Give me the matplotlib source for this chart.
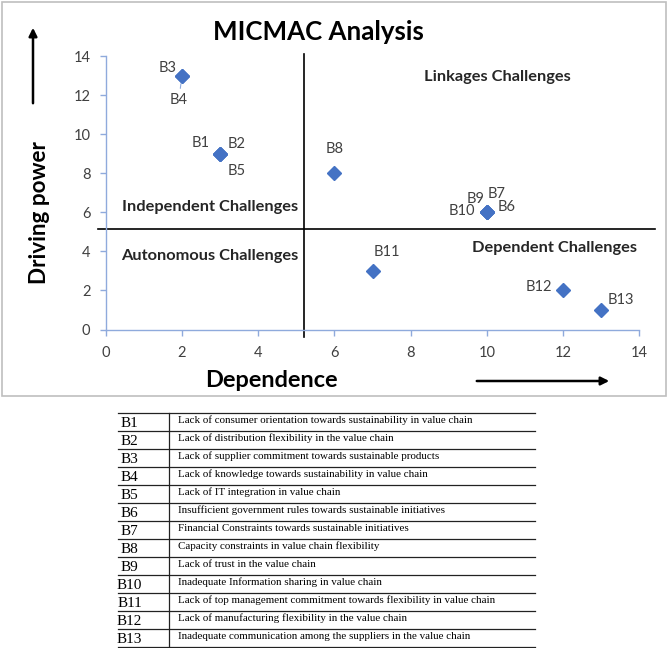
import matplotlib
matplotlib.use("Agg")
import matplotlib.pyplot as plt
from matplotlib.lines import Line2D
from matplotlib.patches import Rectangle, FancyArrowPatch

# ---------------- data ----------------
codes = ["B1", "B2", "B3", "B4", "B5", "B6", "B7", "B8", "B9", "B10", "B11", "B12", "B13"]
dependence = [3, 3, 2, 2, 3, 10, 10, 6, 10, 10, 7, 12, 13]
driving_power = [9, 9, 13, 13, 9, 6, 6, 8, 6, 6, 3, 2, 1]
descriptions = [
    "Lack of consumer orientation towards sustainability in value chain",
    "Lack of distribution flexibility in the value chain",
    "Lack of supplier commitment towards sustainable products",
    "Lack of knowledge towards sustainability in value chain",
    "Lack of IT integration in value chain",
    "Insufficient government rules towards sustainable initiatives",
    "Financial Constraints towards sustainable initiatives",
    "Capacity constraints in value chain flexibility",
    "Lack of trust in the value chain",
    "Inadequate Information sharing in value chain",
    "Lack of top management commitment towards flexibility in value chain",
    "Lack of manufacturing flexibility in the value chain",
    "Inadequate communication among the suppliers in the value chain",
]
x_ticks = [0, 2, 4, 6, 8, 10, 12, 14]
y_ticks = [0, 2, 4, 6, 8, 10, 12, 14]
threshold_dep = 5.2
threshold_drv = 5.15
quadrant_names = ["Independent Challenges", "Linkages Challenges",
                  "Autonomous Challenges", "Dependent Challenges"]

# ---------------- layout (pixels) ----------------
W, H = 668, 648
label_offsets = {  # pixel offsets of point labels from their marker
    "B1": (-19, 11), "B2": (17, 10), "B3": (-14, 8), "B4": (-3, -24),
    "B5": (17, -17), "B6": (20, 5), "B7": (10, 18), "B8": (0, 24),
    "B9": (-11, 13), "B10": (-25, 1), "B11": (14, 19), "B12": (-24, 3),
    "B13": (20, 10),
}
quad_pos = {  # (x center, baseline y from top)
    "Independent Challenges": (210, 211),
    "Linkages Challenges": (497, 81),
    "Autonomous Challenges": (210, 259.5),
    "Dependent Challenges": (554, 252),
}

CHART_FONT = "Lato"
TICK_COLOR = "#404040"
AXIS_COLOR = "#8FAADC"
MARKER_COLOR = "#4472C4"

fig = plt.figure(figsize=(W / 100, H / 100), dpi=100)
fig.patch.set_facecolor("white")


def fx(x):
    return x / W


def fy(y):
    return 1 - y / H


# chart border
fig.add_artist(Rectangle((fx(2), fy(396)), fx(664), (394) / H, transform=fig.transFigure,
                         fill=False, edgecolor="#BFBFBF", lw=1.2))

ax_l, ax_r, ax_t, ax_b = 105.7, 639.3, 56.0, 329.5
ax = fig.add_axes([fx(ax_l), fy(ax_b), (ax_r - ax_l) / W, (ax_b - ax_t) / H])
ax.set_xlim(0, 14)
ax.set_ylim(0, 14)
ax.set_facecolor("none")
for s in ["top", "right"]:
    ax.spines[s].set_visible(False)
for s in ["left", "bottom"]:
    ax.spines[s].set_color(AXIS_COLOR)
    ax.spines[s].set_linewidth(1.0)
ax.set_xticks(x_ticks)
ax.set_yticks(y_ticks)
ax.tick_params(axis="both", color=AXIS_COLOR, length=4, width=1.0,
               labelcolor=TICK_COLOR, labelsize=10.5, direction="out")
ax.tick_params(axis="x", pad=8)
ax.tick_params(axis="y", pad=7)
for lab in ax.get_xticklabels() + ax.get_yticklabels():
    lab.set_family(CHART_FONT)

# threshold lines
ax.plot([threshold_dep, threshold_dep], [-0.38, 14.1], color="black", lw=1.2, clip_on=False, zorder=2)
ax.plot([-0.2, 14.4], [threshold_drv, threshold_drv], color="black", lw=1.2, clip_on=False, zorder=2)

# points
ax.plot(dependence, driving_power, linestyle="none", marker="D", markersize=7.5,
        color=MARKER_COLOR, zorder=4, clip_on=False)

for c, xv, yv in zip(codes, dependence, driving_power):
    dx, dy = label_offsets[c]
    kw = {}
    if c == "B4":
        kw["arrowprops"] = dict(arrowstyle="-", color=AXIS_COLOR, lw=0.8, shrinkA=1, shrinkB=6)
    ax.annotate(c, (xv, yv), xytext=(dx, dy), textcoords="offset pixels",
                ha="center", va="center", fontsize=10.5, color=TICK_COLOR,
                family=CHART_FONT, zorder=5, **kw)

for name in quadrant_names:
    px, py = quad_pos[name]
    fig.text(fx(px), fy(py), name, ha="center", va="baseline", fontsize=11.8,
             fontweight="bold", family=CHART_FONT, color="#262626")

# title & axis labels
fig.text(fx(318), fy(40), "MICMAC Analysis", ha="center", va="baseline",
         fontsize=18.6, fontweight="bold", family=CHART_FONT, color="black")
fig.text(fx(40), fy(213), "Driving power", ha="center", va="center", rotation=90,
         fontsize=16.2, fontweight="bold", family=CHART_FONT, color="black")
fig.text(fx(271), fy(386.7), "Dependence", ha="center", va="baseline",
         fontsize=16.9, fontweight="bold", family=CHART_FONT, color="black")

# arrows
fig.add_artist(FancyArrowPatch(
    (fx(33), fy(106)), (fx(33), fy(25)), transform=fig.transFigure,
    arrowstyle="-|>", mutation_scale=12, color="black", lw=1.8))
fig.add_artist(FancyArrowPatch(
    (fx(474), fy(381)), (fx(612), fy(381)), transform=fig.transFigure,
    arrowstyle="-|>", mutation_scale=12, color="black", lw=1.8))

# ---------------- table ----------------
t_left, t_right, t_div = 118, 535, 169
t_top, row_h = 412.7, 18.0
n = len(codes)
line_kw = dict(color="#222222", lw=0.9, transform=fig.transFigure)
for i in range(n + 1):
    y = t_top + i * row_h
    fig.add_artist(Line2D([fx(t_left), fx(t_right)], [fy(y), fy(y)], **line_kw))
fig.add_artist(Line2D([fx(t_div), fx(t_div)], [fy(t_top), fy(t_top + n * row_h)], **line_kw))
for i, (c, d) in enumerate(zip(codes, descriptions)):
    yb = t_top + (i + 1) * row_h
    fig.text(fx(129.5), fy(yb - 3.4), c, ha="center", va="baseline",
             fontsize=11, family="Liberation Serif", color="black")
    fig.text(fx(177.5), fy(yb - 8), d, ha="left", va="baseline",
             fontsize=7.95, family="Liberation Serif", color="black")

fig.savefig("out.png", dpi=100, facecolor="white")
